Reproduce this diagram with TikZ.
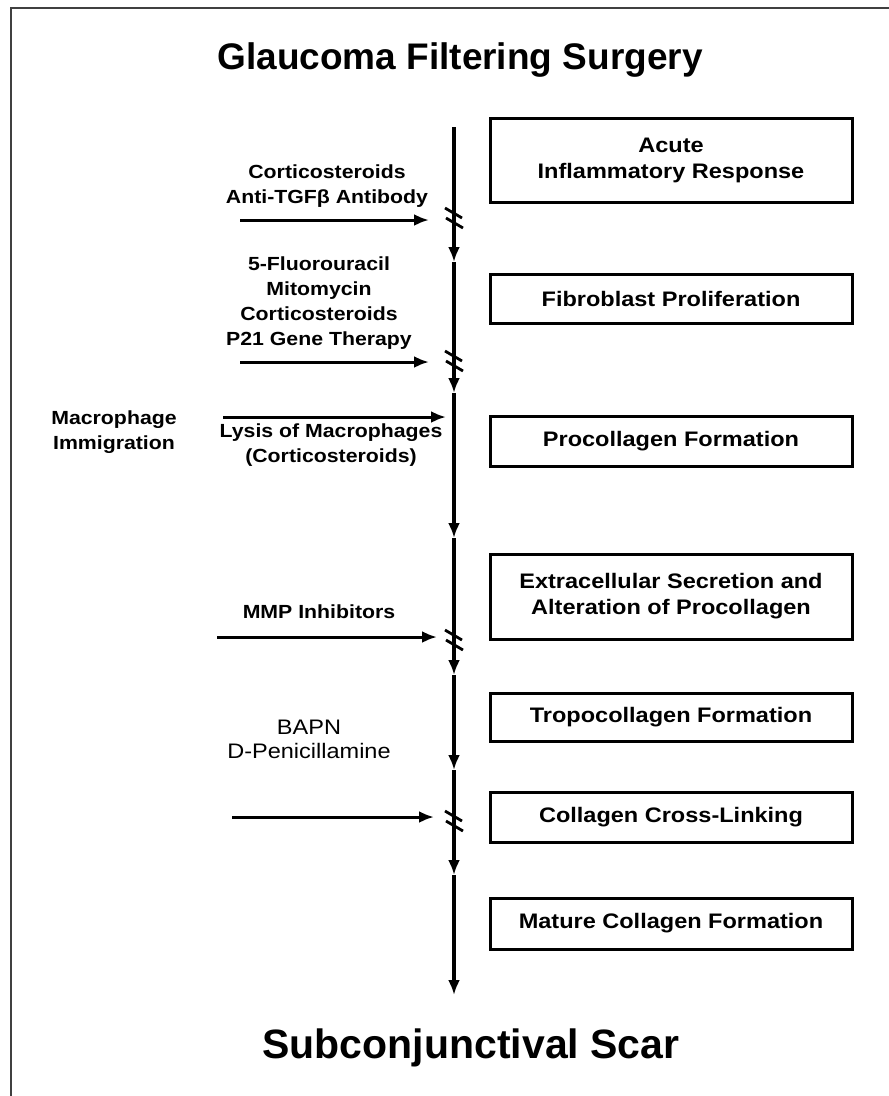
\documentclass[tikz,border=0pt]{standalone}
\usepackage{fontspec}
\setmainfont{Liberation Sans}
\newfontfamily\labfont{Liberation Sans}[FakeStretch=1.12]
\usetikzlibrary{arrows.meta}
\begin{document}
\begin{tikzpicture}[x=1pt,y=-1pt,
  stage/.style={draw, line width=3pt, minimum width=362pt, align=center, inner sep=0pt,
    font=\labfont\bfseries\fontsize{21}{26}\selectfont},
  lab/.style={align=center, inner sep=0pt, font=\labfont\bfseries\fontsize{19}{25}\selectfont},
  labreg/.style={align=center, inner sep=0pt, font=\labfont\fontsize{21}{24}\selectfont},
  ttl/.style={inner sep=0pt, anchor=base, font=\bfseries\fontsize{37}{44}\selectfont},
  flow/.style={line width=3.5pt, -{Latex[length=15pt,width=12pt]}},
  drug/.style={line width=3pt, -{Latex[length=15pt,width=12pt]}},
  brk/.style={line width=2.8pt}]
\useasboundingbox (0,0) rectangle (889,1096);
% frame
\draw[line width=1.5pt, black!75] (889,8) -- (11,8) -- (11,1096);
% titles
\node[ttl] (top) at (460,69) {Glaucoma Filtering Surgery};
\node[ttl, font=\bfseries\fontsize{41}{48}\selectfont] (bot) at (471,1058) {Subconjunctival Scar};
% stage boxes
\node[stage, minimum height=84pt] (b1) at (671,160) {Acute\\Inflammatory Response};
\node[stage, minimum height=49pt] (b2) at (671,298.5) {Fibroblast Proliferation};
\node[stage, minimum height=50pt] (b3) at (671,441) {Procollagen Formation};
\node[stage, minimum height=85pt] (b4) at (671,596.5) {Extracellular Secretion and\\Alteration of Procollagen};
\node[stage, minimum height=48pt] (b5) at (671,717) {Tropocollagen Formation};
\node[stage, minimum height=50pt] (b6) at (671,817) {Collagen Cross-Linking};
\node[stage, minimum height=51pt] (b7) at (671,923.5) {Mature Collagen Formation};
% main vertical line
\coordinate (v0) at (454,127);
\coordinate (v1) at (454,262);
\coordinate (v2) at (454,393);
\coordinate (v3) at (454,538);
\coordinate (v4) at (454,675);
\coordinate (v5) at (454,770);
\coordinate (v6) at (454,875);
\coordinate (v7) at (454,995);
\draw[flow] (v0) -- (v1);
\draw[flow] (v1) -- (v2);
\draw[flow] (v2) -- (v3);
\draw[flow] (v3) -- (v4);
\draw[flow] (v4) -- (v5);
\draw[flow] (v5) -- (v6);
\draw[flow] (v6) -- (v7);
% break marks
\foreach \yb in {219,362,641,822}{
  \draw[brk] (445,\yb-11) -- (462,\yb-1);
  \draw[brk] (446,\yb-1) -- (463,\yb+9);
}
% inhibitor arrows
\coordinate (h1s) at (240,220); \coordinate (h1e) at (429,220);
\coordinate (h2s) at (240,362); \coordinate (h2e) at (429,362);
\coordinate (h3s) at (223,417); \coordinate (h3e) at (446,417);
\coordinate (h4s) at (217,637); \coordinate (h4e) at (437,637);
\coordinate (h5s) at (232,817); \coordinate (h5e) at (434,817);
\draw[drug] (h1s) -- (h1e);
\draw[drug] (h2s) -- (h2e);
\draw[drug] (h3s) -- (h3e);
\draw[drug] (h4s) -- (h4e);
\draw[drug] (h5s) -- (h5e);
% labels
\node[lab] (l1) at (327,186) {Corticosteroids\\Anti-TGFβ Antibody};
\node[lab] (l2) at (319,303) {5-Fluorouracil\\Mitomycin\\Corticosteroids\\P21 Gene Therapy};
\node[lab] (l3) at (331,445) {Lysis of Macrophages\\(Corticosteroids)};
\node[lab] (l4) at (114,432) {Macrophage\\Immigration};
\node[lab] (l5) at (319,612) {MMP Inhibitors};
\node[labreg] (l6) at (309,739) {BAPN\\D-Penicillamine};
\end{tikzpicture}
\end{document}
